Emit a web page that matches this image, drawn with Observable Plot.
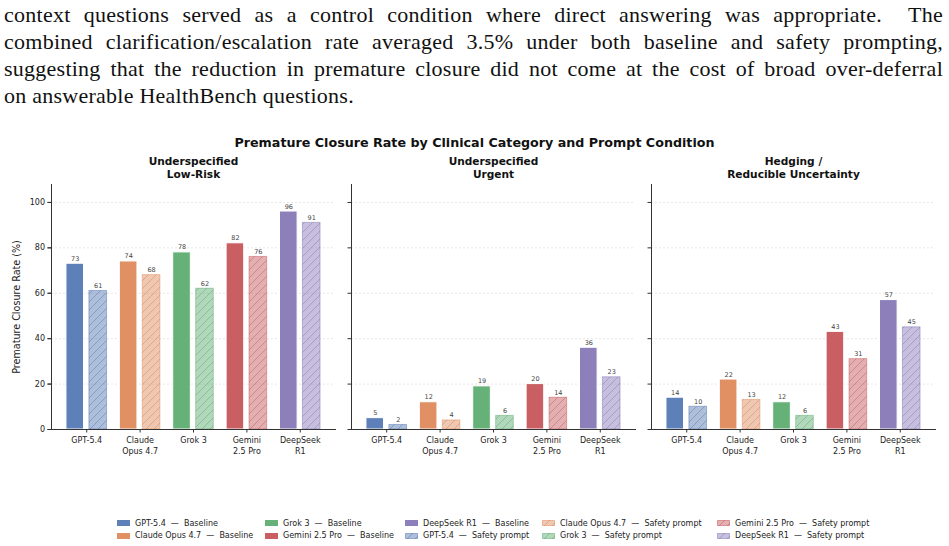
<!DOCTYPE html>
<html><head><meta charset="utf-8">
<script src="https://cdn.jsdelivr.net/npm/d3@7"></script>
<script src="https://cdn.jsdelivr.net/npm/@observablehq/plot@0.6"></script>
<style>
body{margin:0;background:#fff;width:949px;height:546px;position:relative;overflow:hidden;font-family:"DejaVu Sans",sans-serif;}
#para{position:absolute;left:4px;top:1px;width:939px;font-family:"Liberation Serif",serif;font-size:22px;letter-spacing:0.25px;color:#111;}
#para div{height:27px;line-height:27px;white-space:nowrap;text-align:justify;text-align-last:justify;}
#para div.last{text-align-last:left;}
#title{position:absolute;top:135px;left:0;width:949px;text-align:center;font-weight:bold;font-size:12.7px;line-height:15px;color:#111;}
#chart{position:absolute;top:150px;left:0;}
#legend{position:absolute;top:517px;left:117px;display:grid;grid-template-columns:148px 140px 137px 175px 200px;grid-auto-flow:column;grid-template-rows:12.5px 12.5px;font-size:8px;color:#222;}
#legend .item{display:flex;align-items:center;white-space:pre;}
#legend svg{margin-right:5px;}
</style>
</head><body>
<div id="para">
<div>context questions served as a control condition where direct answering was appropriate.&nbsp; The</div>
<div>combined clarification/escalation rate averaged 3.5% under both baseline and safety prompting,</div>
<div>suggesting that the reduction in premature closure did not come at the cost of broad over-deferral</div>
<div class="last">on answerable HealthBench questions.</div>
</div>
<div id="title">Premature Closure Rate by Clinical Category and Prompt Condition</div>
<div id="chart"></div>
<div id="legend"></div>
<script>
const categories = ["Underspecified\nLow-Risk", "Underspecified\nUrgent", "Hedging /\nReducible Uncertainty"];
const models = ["GPT-5.4", "Claude Opus 4.7", "Grok 3", "Gemini 2.5 Pro", "DeepSeek R1"];
const modelTickLabels = ["GPT-5.4", "Claude\nOpus 4.7", "Grok 3", "Gemini\n2.5 Pro", "DeepSeek\nR1"];
const conditions = ["Baseline", "Safety prompt"];
const baselineLowRisk = [73, 74, 78, 82, 96];
const safetyLowRisk = [61, 68, 62, 76, 91];
const baselineUrgent = [5, 12, 19, 20, 36];
const safetyUrgent = [2, 4, 6, 14, 23];
const baselineHedging = [14, 22, 12, 43, 57];
const safetyHedging = [10, 13, 6, 31, 45];
const colors = ["#4c72b0", "#dd8452", "#55a868", "#c44e52", "#8172b3"];
const yTicks = [0, 20, 40, 60, 80, 100];
const yLabel = "Premature Closure Rate (%)";

const baselineValues = [baselineLowRisk, baselineUrgent, baselineHedging];
const safetyValues = [safetyLowRisk, safetyUrgent, safetyHedging];

const rows = [];
categories.forEach((c, ci) => models.forEach((m, mi) => {
  rows.push({category: c, model: m, mi, condition: conditions[0], value: baselineValues[ci][mi]});
  rows.push({category: c, model: m, mi, condition: conditions[1], value: safetyValues[ci][mi]});
}));
const base = rows.filter(d => d.condition === conditions[0]);
const safe = rows.filter(d => d.condition === conditions[1]);

const W = 0.33, OFF = 0.215;
const xc = d => d.mi + (d.condition === conditions[0] ? -OFF : OFF);
const x1 = d => xc(d) - W / 2;
const x2 = d => xc(d) + W / 2;

const plot = Plot.plot({
  width: 949, height: 319,
  marginLeft: 50, marginRight: 14, marginTop: 34, marginBottom: 40,
  style: {fontFamily: "DejaVu Sans, sans-serif", fontSize: "8px", color: "#222", background: "white"},
  fx: {domain: categories, paddingInner: 0.055, paddingOuter: 0, axis: null},
  x: {domain: [-0.66, 4.66], axis: null},
  y: {domain: [0, 107.9], axis: null},
  color: {type: "identity"},
  marks: [
    Plot.gridY(yTicks, {stroke: "#bbb", strokeOpacity: 0.5, strokeDasharray: "2,2", strokeWidth: 0.7}),
    Plot.rectY(base, {fx: "category", x1, x2, y: "value", fill: d => colors[d.mi], fillOpacity: 0.9, stroke: "white", strokeWidth: 1}),
    Plot.rectY(safe, {fx: "category", x1, x2, y: "value", fill: d => colors[d.mi], fillOpacity: 0.45, stroke: d => colors[d.mi], strokeOpacity: 0.45, strokeWidth: 1}),
    Plot.rectY(safe, {fx: "category", x1, x2, y: "value", fill: d => `url(#hatch${d.mi})`}),
    Plot.text(rows, {fx: "category", x: xc, y: "value", text: d => String(d.value), dy: -3, lineAnchor: "bottom", fontSize: 6.5, fill: "#444"}),
    Plot.frame({anchor: "left", stroke: "#333", strokeWidth: 1}),
    Plot.frame({anchor: "bottom", stroke: "#333", strokeWidth: 1}),
    Plot.axisY({ticks: yTicks, tickSize: 3.5, tickPadding: 3, fontSize: 8, label: yLabel, labelAnchor: "center", labelArrow: "none", labelOffset: 38, stroke: "#333"}),
    Plot.axisY({ticks: yTicks, tickSize: 3.5, facetAnchor: null, tickFormat: () => "", label: null, stroke: "#333"}),
    Plot.axisX({ticks: models.map((m, i) => i), tickFormat: i => modelTickLabels[i], tickSize: 3.5, tickPadding: 3, fontSize: 8, lineHeight: 1.3, label: null, stroke: "#333"}),
    Plot.text(categories, {fx: d => d, text: d => d, frameAnchor: "top", lineAnchor: "bottom", dy: -7, fontWeight: "bold", fontSize: 10.6, lineHeight: 1.2, fill: "#111"})
  ]
});

// y-axis label size (matplotlib label larger than tick labels)
d3.select(plot).selectAll("[aria-label='y-axis label'] text").attr("font-size", 9.6);

// hatch patterns
const defs = d3.create("svg:defs");
colors.forEach((c, i) => {
  const p = defs.append("pattern").attr("id", `hatch${i}`).attr("patternUnits", "userSpaceOnUse")
    .attr("width", 8).attr("height", 8);
  p.append("path").attr("d", "M0,8L8,0M-2,2L2,-2M6,10L10,6")
    .attr("stroke", d3.color(c).darker(0.4)).attr("stroke-opacity", 0.55).attr("stroke-width", 0.7).attr("fill", "none");
});
plot.insertBefore(defs.node(), plot.firstChild);
document.getElementById("chart").appendChild(plot);

// legend (matplotlib column-major order)
const entries = [];
conditions.forEach(cond => models.forEach((m, mi) => entries.push({m, mi, cond})));
const legend = d3.select("#legend");
entries.forEach(e => {
  const item = legend.append("div").attr("class", "item");
  const s = item.append("svg").attr("width", 13).attr("height", 6);
  if (e.cond === conditions[0]) {
    s.append("rect").attr("width", 13).attr("height", 6).attr("fill", colors[e.mi]).attr("fill-opacity", 0.9);
  } else {
    s.append("rect").attr("x", 0.5).attr("y", 0.5).attr("width", 12).attr("height", 5).attr("fill", colors[e.mi]).attr("fill-opacity", 0.45)
      .attr("stroke", colors[e.mi]).attr("stroke-opacity", 0.5);
    s.append("rect").attr("width", 13).attr("height", 6).attr("fill", `url(#hatch${e.mi})`);
  }
  item.append("span").text(`${e.m}  —  ${e.cond}`);
});
</script>
</body></html>
